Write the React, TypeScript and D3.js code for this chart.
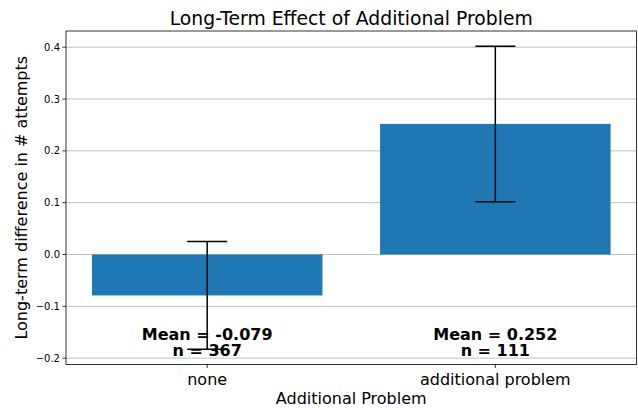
import { useEffect, useRef } from 'react';
import * as d3 from 'd3';

const categories = ['none', 'additional problem'];
const means = [-0.079, 0.252];
const errors = [0.104, 0.15];
const counts = [367, 111];
const yTicks = [-0.2, -0.1, 0.0, 0.1, 0.2, 0.3, 0.4];

export default function App() {
  const svgRef = useRef<SVGSVGElement | null>(null);

  useEffect(() => {
    const width = 638;
    const height = 410;
    const left = 66, right = 636.5, top = 31, bottom = 364.5;
    const font = 'DejaVu Sans, sans-serif';

    const svg = d3.select(svgRef.current)
      .attr('width', width)
      .attr('height', height);
    svg.selectAll('*').remove();

    // matplotlib-like limits: bars at 0..n-1, width 0.8, 5% margins
    const x = d3.scaleLinear().domain([-0.49, 1.49]).range([left, right]);
    const lo = d3.min(means.map((m, i) => m - errors[i])) as number;
    const hi = d3.max(means.map((m, i) => m + errors[i])) as number;
    const pad = (hi - lo) * 0.05;
    const y = d3.scaleLinear().domain([lo - pad, hi + pad]).range([bottom, top]);
    const fmt = (v: number) => d3.format('.1f')(v).replace('-', '\u2212');

    // grid
    svg.append('g').selectAll('line').data(yTicks).join('line')
      .attr('x1', left).attr('x2', right)
      .attr('y1', d => y(d)).attr('y2', d => y(d))
      .attr('stroke', '#b0b0b0').attr('stroke-width', 0.8);

    // bars
    svg.append('g').selectAll('rect').data(means).join('rect')
      .attr('x', (_, i) => x(i - 0.4))
      .attr('width', x(0.8) - x(0))
      .attr('y', d => y(Math.max(0, d)))
      .attr('height', d => Math.abs(y(d) - y(0)))
      .attr('fill', '#1f77b4');

    // error bars
    const eb = svg.append('g').attr('stroke', 'black').attr('stroke-width', 1.5);
    means.forEach((m, i) => {
      const cx = x(i);
      eb.append('line').attr('x1', cx).attr('x2', cx)
        .attr('y1', y(m - errors[i])).attr('y2', y(m + errors[i]));
      [m - errors[i], m + errors[i]].forEach(v => {
        eb.append('line').attr('x1', cx - 20).attr('x2', cx + 20)
          .attr('y1', y(v)).attr('y2', y(v));
      });
    });

    // annotations
    means.forEach((m, i) => {
      const t = svg.append('text')
        .attr('x', x(i)).attr('text-anchor', 'middle')
        .attr('font-family', font).attr('font-size', 16).attr('font-weight', 'bold');
      t.append('tspan').attr('x', x(i)).attr('y', 340).text(`Mean = ${m.toFixed(3)}`);
      t.append('tspan').attr('x', x(i)).attr('y', 356).text(`n = ${counts[i]}`);
    });

    // frame
    svg.append('rect')
      .attr('x', left).attr('y', top)
      .attr('width', right - left).attr('height', bottom - top)
      .attr('fill', 'none').attr('stroke', 'black').attr('stroke-width', 0.8);

    // y axis ticks
    const ya = svg.append('g');
    yTicks.forEach(v => {
      ya.append('line').attr('x1', left - 3.5).attr('x2', left)
        .attr('y1', y(v)).attr('y2', y(v)).attr('stroke', 'black').attr('stroke-width', 0.8);
      ya.append('text').attr('x', left - 6).attr('y', y(v)).attr('dy', '0.35em')
        .attr('text-anchor', 'end').attr('font-family', font).attr('font-size', 10)
        .text(fmt(v));
    });

    // x axis ticks
    categories.forEach((c, i) => {
      svg.append('line').attr('x1', x(i)).attr('x2', x(i))
        .attr('y1', bottom).attr('y2', bottom + 3.5).attr('stroke', 'black').attr('stroke-width', 0.8);
      svg.append('text').attr('x', x(i)).attr('y', 385)
        .attr('text-anchor', 'middle').attr('font-family', font).attr('font-size', 16)
        .text(c);
    });

    svg.append('text').attr('x', (left + right) / 2).attr('y', 404)
      .attr('text-anchor', 'middle').attr('font-family', font).attr('font-size', 16)
      .text('Additional Problem');

    svg.append('text')
      .attr('transform', `translate(27,${(top + bottom) / 2}) rotate(-90)`)
      .attr('text-anchor', 'middle').attr('font-family', font).attr('font-size', 16)
      .text('Long-term difference in # attempts');

    svg.append('text').attr('x', (left + right) / 2).attr('y', 25)
      .attr('text-anchor', 'middle').attr('font-family', font).attr('font-size', 18.8)
      .text('Long-Term Effect of Additional Problem');
  }, []);

  return (
    <div style={{ position: 'absolute', left: 0, top: 0 }}>
      <svg ref={svgRef}></svg>
    </div>
  );
}
